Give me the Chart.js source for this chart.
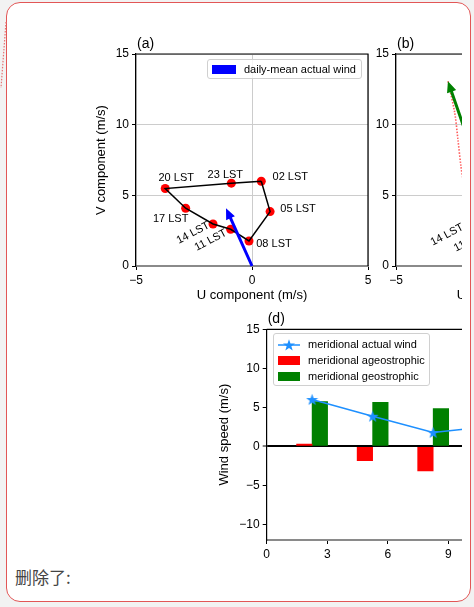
<!DOCTYPE html>
<html>
<head>
<meta charset="utf-8">
<script src="https://cdn.jsdelivr.net/npm/chart.js@4.4.1/dist/chart.umd.min.js"></script>
<style>
  body { margin: 0; width: 474px; height: 607px; background: #f2f2f2; position: relative; overflow: hidden;
         font-family: "Liberation Sans", Arial, sans-serif; }
  #card { position: absolute; left: 6px; top: 2px; width: 465px; height: 600px; box-sizing: border-box;
          background: #fff; border: 1.5px solid #e25656; border-radius: 14px; }
  #fig { position: absolute; left: 0; top: 0; width: 462px; height: 562px; overflow: hidden; }
  #fig canvas { position: absolute; }
  .lg { position: absolute; background: rgba(255,255,255,0.8); border: 1px solid #d0d0d0; border-radius: 3px;
        box-sizing: border-box; font-size: 11px; color: #000; }
  .row { position: absolute; left: 0; height: 16px; line-height: 16px; white-space: nowrap; }
  .patch { position: absolute; height: 8.5px; }
  #note { position: absolute; left: 15px; top: 565px; font-size: 17px; color: #444;
          font-family: "Noto Sans CJK SC", sans-serif; line-height: 24px; }
</style>
</head>
<body>
<div id="card"></div>
<svg style="position:absolute;left:0;top:0" width="12" height="100">
  <line x1="6" y1="22" x2="1" y2="88" stroke="#e57373" stroke-width="1.2" stroke-dasharray="1.5 1.5"/>
</svg>
<div id="fig">
  <canvas id="chartA" width="300" height="280" style="left:80px;top:30px"></canvas>
  <canvas id="chartB" width="300" height="280" style="left:340px;top:30px"></canvas>
  <canvas id="chartD" width="561" height="270" style="left:200px;top:300px"></canvas>

  <div class="lg" style="left:207px;top:59px;width:155px;height:20px">
    <div class="patch" style="left:4px;top:5px;width:24px;background:#0000ff"></div>
    <div class="row" style="left:36px;top:1px">daily-mean actual wind</div>
  </div>

  <div class="lg" style="left:273px;top:333px;width:157px;height:53px">
    <svg style="position:absolute;left:3px;top:4px" width="24" height="14">
      <line x1="1" y1="7" x2="23" y2="7" stroke="#1e90ff" stroke-width="1.5"/>
      <polygon id="legStar" fill="#1e90ff"/>
    </svg>
    <div class="row" style="left:34px;top:2px">meridional actual wind</div>
    <div class="patch" style="left:4px;top:22px;width:22px;background:#ff0000"></div>
    <div class="row" style="left:34px;top:18px">meridional ageostrophic</div>
    <div class="patch" style="left:4px;top:38px;width:22px;background:#008000"></div>
    <div class="row" style="left:34px;top:34px">meridional geostrophic</div>
  </div>
</div>
<div id="note">删除了:</div>

<script>
// hodograph (a): hourly actual wind
const hourLabels = ['02 LST', '05 LST', '08 LST', '11 LST', '14 LST', '17 LST', '20 LST', '23 LST'];
const uActual = [0.4, 0.78, -0.13, -0.92, -1.68, -2.86, -3.74, -0.89];
const vActual = [6.0, 3.85, 1.77, 2.6, 2.97, 4.09, 5.48, 5.86];
const meanActual = [-1.12, 4.09];

// panel (b), only the left edge is visible
const meanGeo = [-2.76, 13.07];
const uDotted = [-2.76, -2.47, -2.33, -2.2, -2.1];
const vDotted = [13.07, 10.85, 8.94, 7.04, 6.0];
const labelsB = ['11 LST', '14 LST'];
const uB = [-0.95, -1.94];
const vB = [2.55, 2.84];

// panel (d): meridional components
const hourPos = [2.25, 5.25, 8.25, 11.25, 14.25, 17.25, 20.25, 23.25];
const ageo = [0.3, -1.82, -3.14];
const geo = [5.73, 5.65, 4.84];

const uvTicks = [-5, 0, 5];
const vTicks = [0, 5, 10, 15];

const Chart = window.Chart;
Chart.defaults.font.family = '"Liberation Sans", Arial, sans-serif';
Chart.defaults.color = '#000';

const minus = v => String(v).replace('-', '\u2212');
const noPad = s => { s.paddingLeft = 0; s.paddingRight = 0; s.paddingTop = 0; s.paddingBottom = 0; };

function star(ctx, cx, cy, ro, ri) {
  ctx.beginPath();
  for (let i = 0; i < 10; i++) {
    const r = i % 2 ? ri : ro, a = -Math.PI / 2 + i * Math.PI / 5;
    ctx.lineTo(cx + r * Math.cos(a), cy + r * Math.sin(a));
  }
  ctx.closePath();
}
const starImg = document.createElement('canvas');
starImg.width = 13; starImg.height = 13;
{
  const c = starImg.getContext('2d');
  c.fillStyle = '#1e90ff';
  star(c, 6.5, 7, 6.3, 2.5);
  c.fill();
}
document.getElementById('legStar').setAttribute('points',
  Array.from({length: 10}, (_, i) => {
    const r = i % 2 ? 2.5 : 6.3, a = -Math.PI / 2 + i * Math.PI / 5;
    return (12 + r * Math.cos(a)).toFixed(2) + ',' + (7.5 + r * Math.sin(a)).toFixed(2);
  }).join(' '));

function arrow(ctx, x0, y0, x1, y1, color) {
  const L = Math.hypot(x1 - x0, y1 - y0), dx = (x1 - x0) / L, dy = (y1 - y0) / L;
  const px = -dy, py = dx, w = 1.5, hw = 4.8, hl = 11;
  const bx = x1 - dx * hl, by = y1 - dy * hl;
  ctx.beginPath();
  ctx.moveTo(x0 + px * w, y0 + py * w);
  ctx.lineTo(bx + px * w, by + py * w);
  ctx.lineTo(bx + px * hw, by + py * hw);
  ctx.lineTo(x1, y1);
  ctx.lineTo(bx - px * hw, by - py * hw);
  ctx.lineTo(bx - px * w, by - py * w);
  ctx.lineTo(x0 - px * w, y0 - py * w);
  ctx.closePath();
  ctx.fillStyle = color;
  ctx.fill();
}

// arrows, hour labels, top/right spines, panel letter
const extras = {
  id: 'extras',
  afterDatasetsDraw(chart, args, opts) {
    const {ctx, chartArea: a} = chart;
    const x = chart.scales.x, y = chart.scales.y;
    ctx.save();
    (opts.arrows || []).forEach(ar => {
      arrow(ctx, x.getPixelForValue(0), y.getPixelForValue(0),
        x.getPixelForValue(ar.uv[0]), y.getPixelForValue(ar.uv[1]), ar.color);
    });
    const lb = opts.labels;
    if (lb) {
      ctx.font = '11px "Liberation Sans"';
      ctx.fillStyle = '#000';
      ctx.textAlign = 'center';
      ctx.textBaseline = 'middle';
      lb.text.forEach((t, i) => {
        ctx.save();
        ctx.translate(x.getPixelForValue(lb.u[i]) + lb.dx[i], y.getPixelForValue(lb.v[i]) + lb.dy[i]);
        ctx.rotate(lb.rot[i] * Math.PI / 180);
        ctx.fillText(t, 0, 0);
        ctx.restore();
      });
    }
    ctx.strokeStyle = '#000';
    ctx.lineWidth = 1.2;
    ctx.beginPath();
    ctx.moveTo(a.left, a.top);
    ctx.lineTo(a.right, a.top);
    if (opts.right) ctx.lineTo(a.right, a.bottom);
    ctx.stroke();
    ctx.font = '14px "Liberation Sans"';
    ctx.textAlign = 'left';
    ctx.textBaseline = 'middle';
    ctx.fillStyle = '#000';
    ctx.fillText(opts.tag, a.left + 1, a.top - 10);
    ctx.restore();
  }
};

function hodoScales(yTitle) {
  const grid = { color: '#cccccc', lineWidth: 1, tickColor: '#000', tickLength: 4, tickWidth: 1 };
  return {
    x: {
      type: 'linear', min: -5, max: 5,
      afterBuildTicks: s => { s.ticks = uvTicks.map(v => ({value: v})); },
      ticks: { callback: minus, font: {size: 12}, padding: 3, maxRotation: 0 },
      grid: grid,
      border: { color: '#8a8a8a', width: 2 },
      title: { display: true, text: 'U component (m/s)', font: {size: 13}, padding: {top: 0, bottom: 7} },
      afterFit: s => { s.height = 44; noPad(s); }
    },
    y: {
      type: 'linear', min: 0, max: 15,
      afterBuildTicks: s => { s.ticks = vTicks.map(v => ({value: v})); },
      ticks: { callback: minus, font: {size: 12}, padding: 3 },
      grid: grid,
      border: { color: '#000', width: 1.2 },
      title: { display: yTitle, text: 'V component (m/s)', font: {size: 13}, padding: {top: 14, bottom: 0} },
      afterFit: s => { s.width = 56; noPad(s); }
    }
  };
}

const baseOpts = {
  responsive: false,
  animation: false,
  layout: { padding: { top: 24, right: 12, left: 0, bottom: 0 } }
};

const loop = hourLabels.map((_, i) => ({x: uActual[i], y: vActual[i]}));

new Chart(document.getElementById('chartA'), {
  type: 'scatter',
  data: {
    datasets: [
      { type: 'line', data: loop.concat([loop[0]]), borderColor: '#000', borderWidth: 1.5,
        pointRadius: 0, fill: false, tension: 0 },
      { data: loop, backgroundColor: '#ff0000', pointBackgroundColor: '#ff0000',
        pointBorderWidth: 0, borderWidth: 0, pointRadius: 4.5 }
    ]
  },
  options: Object.assign({}, baseOpts, {
    scales: hodoScales(true),
    plugins: {
      legend: { display: false }, tooltip: { enabled: false },
      extras: {
        tag: '(a)', right: true,
        arrows: [{ uv: meanActual, color: '#0000ff' }],
        labels: {
          text: hourLabels, u: uActual, v: vActual,
          dx: [29, 28, 25, -20, -20, -15, 11, -6],
          dy: [-4, -3, 3, 11, 9, 11, -11, -8],
          rot: [0, 0, 0, -28, -28, 0, 0, 0]
        }
      }
    }
  }),
  plugins: [extras]
});

new Chart(document.getElementById('chartB'), {
  type: 'scatter',
  data: {
    datasets: [
      { type: 'line', data: uDotted.map((u, i) => ({x: u, y: vDotted[i]})), borderColor: '#ff5c5c',
        borderWidth: 1.6, borderDash: [1.5, 1.5], pointRadius: 0, fill: false, tension: 0.3 }
    ]
  },
  options: Object.assign({}, baseOpts, {
    scales: hodoScales(false),
    plugins: {
      legend: { display: false }, tooltip: { enabled: false },
      extras: {
        tag: '(b)', right: true,
        arrows: [{ uv: meanGeo, color: '#008000' }],
        labels: { text: labelsB, u: uB, v: vB, dx: [-20, -20], dy: [11, 9], rot: [-28, -28] }
      }
    }
  }),
  plugins: [extras]
});

new Chart(document.getElementById('chartD'), {
  type: 'bar',
  data: {
    datasets: [
      { type: 'line', label: 'meridional actual wind',
        data: hourPos.map((h, i) => ({x: h, y: vActual[i]})),
        borderColor: '#1e90ff', borderWidth: 1.5, pointStyle: starImg, pointRadius: 6, tension: 0 },
      { label: 'meridional ageostrophic', data: ageo.map((v, i) => ({x: hourPos[i], y: v})),
        backgroundColor: '#ff0000', borderWidth: 0, barThickness: 15.5 },
      { label: 'meridional geostrophic', data: geo.map((v, i) => ({x: hourPos[i], y: v})),
        backgroundColor: '#008000', borderWidth: 0, barThickness: 15.5 }
    ]
  },
  options: {
    responsive: false,
    animation: false,
    layout: { padding: { top: 29.3, right: 10, left: 0, bottom: 0 } },
    scales: {
      x: {
        type: 'linear', min: 0, max: 24, offset: false,
        ticks: { stepSize: 3, font: {size: 12}, padding: 3, maxRotation: 0 },
        grid: { offset: false, drawOnChartArea: false, tickColor: '#000', tickLength: 4, tickWidth: 1 },
        border: { color: '#8a8a8a', width: 2 },
        afterFit: s => { s.height = 30; noPad(s); }
      },
      y: {
        type: 'linear', min: -12, max: 15,
        ticks: { stepSize: 5, includeBounds: false, callback: minus, font: {size: 12}, padding: 3 },
        grid: {
          color: c => c.tick && c.tick.value === 0 ? '#000' : 'rgba(0,0,0,0)',
          lineWidth: c => c.tick && c.tick.value === 0 ? 2 : 1,
          tickColor: '#000', tickLength: 4, tickWidth: 1
        },
        border: { color: '#000', width: 1.2 },
        title: { display: true, text: 'Wind speed (m/s)', font: {size: 13}, padding: {top: 17, bottom: 0} },
        afterFit: s => { s.width = 66.7; noPad(s); }
      }
    },
    plugins: {
      legend: { display: false }, tooltip: { enabled: false },
      extras: { tag: '(d)', right: false }
    }
  },
  plugins: [extras]
});
</script>
</body>
</html>
